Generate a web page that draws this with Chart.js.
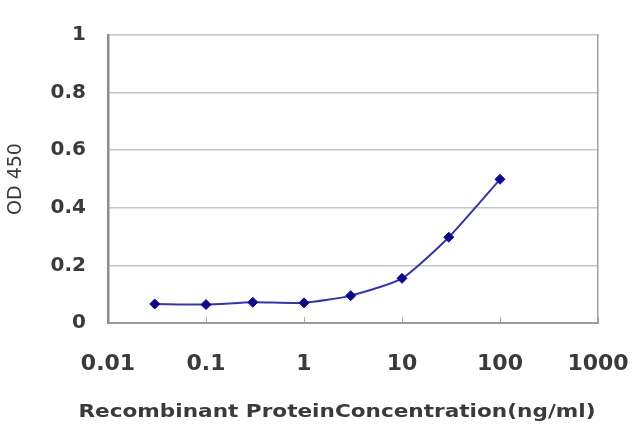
<!DOCTYPE html>
<html>
<head>
<meta charset="utf-8">
<script src="https://cdn.jsdelivr.net/npm/chart.js@4"></script>
<style>
  html, body { margin: 0; padding: 0; background: #fff; }
  #wrap { width: 640px; height: 427px; }
</style>
</head>
<body>
<div id="wrap"><canvas id="c" width="640" height="427"></canvas></div>
<script>
const concentrations = [0.03, 0.1, 0.3, 1, 3, 10, 30, 100];
const od450 = [0.066, 0.064, 0.072, 0.070, 0.095, 0.155, 0.298, 0.499];
const xTickValues = [0.01, 0.1, 1, 10, 100, 1000];
const xTickLabels = ['0.01', '0.1', '1', '10', '100', '1000'];
const yTickValues = [0, 0.2, 0.4, 0.6, 0.8, 1];
const yTickLabels = ['0', '0.2', '0.4', '0.6', '0.8', '1'];
const xTitle = 'Recombinant ProteinConcentration(ng/ml)';
const yTitle = 'OD 450';

const points = concentrations.map((c, i) => ({ x: c, y: od450[i] }));
const textColor = '#3a3a3a';

// horizontally stretch the axis title, as in the reference image
function stretchedTitle(scale, factor, shift) {
  if (scale._stretchedTitle) return;
  scale._stretchedTitle = true;
  const orig = scale.drawTitle;
  scale.drawTitle = function () {
    const ctx = this.ctx;
    const cx = (this.left + this.right) / 2;
    ctx.save();
    ctx.translate(cx + shift, 0);
    ctx.scale(factor, 1);
    ctx.translate(-cx, 0);
    orig.apply(this, arguments);
    ctx.restore();
  };
}

new Chart(document.getElementById('c'), {
  type: 'scatter',
  data: {
    datasets: [{
      data: points,
      showLine: true,
      borderColor: '#3636a6',
      borderWidth: 2,
      backgroundColor: '#0b0b8a',
      pointBackgroundColor: '#0b0b8a',
      pointBorderColor: '#0b0b8a',
      pointStyle: 'rectRot',
      pointRadius: 5,
      pointBorderWidth: 1,
      tension: 0.2
    }]
  },
  options: {
    responsive: false,
    animation: false,
    devicePixelRatio: 1,
    layout: { padding: { top: 35, right: 0, bottom: 0, left: 0 } },
    plugins: { legend: { display: false }, tooltip: { enabled: false } },
    scales: {
      x: {
        type: 'logarithmic',
        position: 'bottom',
        min: 0.01,
        max: 1000,
        afterBuildTicks: (s) => { s.ticks = xTickValues.map(v => ({ value: v })); },
        afterFit: (s) => {
          s.height = 104;
          s.paddingLeft = 0;
          s.paddingRight = 0;
          stretchedTitle(s, 1.27, -16);
        },
        ticks: {
          autoSkip: false,
          maxRotation: 0,
          padding: 34,
          color: textColor,
          font: { family: 'DejaVu Sans', size: 22, weight: 'bold' },
          callback: (v) => { const i = xTickValues.indexOf(v); return i >= 0 ? xTickLabels[i] : ''; }
        },
        grid: {
          drawOnChartArea: false,
          drawTicks: true,
          tickLength: -6,
          color: '#a8a8a8',
          lineWidth: 1
        },
        border: { display: true, color: '#9a9a9a', width: 2 },
        title: {
          display: true,
          text: xTitle,
          color: textColor,
          font: { family: 'DejaVu Sans', size: 17, weight: 'bold' },
          padding: { top: 0, bottom: 4 }
        }
      },
      y: {
        position: 'left',
        min: 0,
        max: 1,
        afterBuildTicks: (s) => { s.ticks = yTickValues.map(v => ({ value: v })); },
        afterFit: (s) => { s.width = 108; },
        ticks: {
          padding: 22,
          color: textColor,
          font: { family: 'DejaVu Sans', size: 20, weight: 'bold' },
          callback: (v) => { const i = yTickValues.indexOf(v); return i >= 0 ? yTickLabels[i] : ''; }
        },
        grid: { drawTicks: false, color: '#c4c4c4', lineWidth: 1.5 },
        border: { display: true, color: '#8c8c8c', width: 2.5 },
        title: {
          display: true,
          text: yTitle,
          color: textColor,
          font: { family: 'DejaVu Sans', size: 19 },
          padding: { top: 5, bottom: 0 }
        }
      },
      yRight: {
        position: 'right',
        min: 0,
        max: 1,
        afterFit: (s) => { s.width = 42; },
        ticks: { display: false },
        grid: { drawOnChartArea: false, drawTicks: false },
        border: { display: true, color: '#a0a0a0', width: 1.5 }
      }
    }
  }
});
</script>
</body>
</html>
